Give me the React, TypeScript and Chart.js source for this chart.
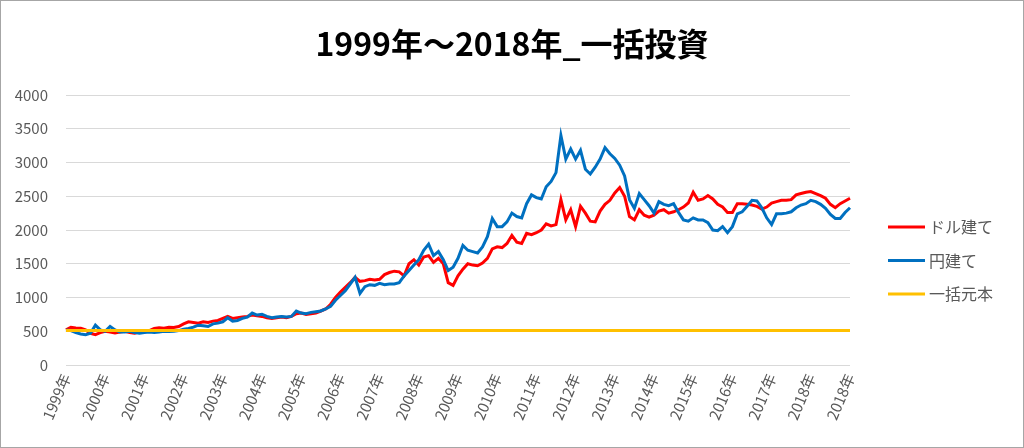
import React, { useEffect, useRef } from "react";
import { Chart, registerables } from "chart.js";

Chart.register(...registerables);

const chartTitle = "1999年～2018年_一括投資";
const seriesNames = ["ドル建て", "円建て", "一括元本"];

const yearTicks = [
  "1999年", "2000年", "2001年", "2002年", "2003年", "2004年", "2005年",
  "2006年", "2007年", "2008年", "2009年", "2010年", "2011年", "2012年",
  "2013年", "2014年", "2015年", "2016年", "2017年", "2018年", "2018年",
];
const pointsPerTick = 8;

const dollarValues = [
  520, 560, 550, 545, 520, 470, 450, 480,
  500, 490, 475, 490, 500, 480, 470, 490,
  500, 510, 540, 550, 545, 560, 555, 570,
  610, 640, 630, 620, 640, 630, 650, 660,
  690, 720, 690, 700, 710, 720, 740, 730,
  720, 700, 690, 700, 710, 700, 720, 760,
  770, 750, 760, 770, 800, 830, 900, 1000,
  1080, 1150, 1220, 1300, 1240, 1250, 1270, 1260,
  1270, 1340, 1370, 1390, 1380, 1320, 1500, 1560,
  1480, 1600, 1620, 1520, 1580, 1500, 1220, 1180,
  1320, 1420, 1500, 1480, 1470, 1510, 1580, 1720,
  1750, 1740, 1800, 1920, 1820, 1800, 1950, 1930,
  1960, 2000, 2090, 2060, 2080, 2450, 2150, 2300,
  2050, 2350, 2250, 2130, 2120, 2280, 2380, 2440,
  2550, 2630, 2500, 2200, 2150, 2300, 2220, 2190,
  2220, 2280, 2300, 2250, 2270, 2300, 2340, 2400,
  2560, 2440, 2460, 2510, 2460, 2380, 2340, 2260,
  2260, 2390, 2390, 2380, 2370, 2350, 2310, 2340,
  2400, 2420, 2440, 2440, 2450, 2520, 2540, 2560,
  2570, 2540, 2510, 2470, 2380, 2330, 2390, 2430,
  2470,
];

const yenValues = [
  520, 510, 480, 460, 450, 470, 590, 520,
  500, 570, 520, 490, 490, 500, 480, 470,
  480, 490, 480, 490, 500, 495, 500, 510,
  530, 540, 560, 590, 580, 570, 610, 620,
  640, 700, 650, 660, 690, 710, 770, 740,
  750, 720, 700, 710, 720, 710, 720, 800,
  770, 760, 780, 790, 800, 830, 870, 960,
  1030, 1100, 1200, 1300, 1060, 1160, 1190, 1180,
  1210, 1190, 1200, 1200, 1220, 1320, 1400, 1480,
  1560, 1700, 1790, 1620, 1680, 1560, 1400, 1450,
  1580, 1770, 1700, 1680, 1660, 1750, 1900, 2170,
  2050, 2050, 2120, 2250, 2200, 2180, 2390, 2520,
  2480, 2460, 2640, 2720, 2850, 3400, 3050, 3200,
  3050, 3180, 2900, 2830, 2930, 3050, 3220, 3130,
  3060, 2960, 2800, 2450, 2320, 2540, 2450, 2360,
  2250, 2420, 2380, 2360, 2390, 2260, 2150, 2130,
  2180, 2150, 2150, 2110, 2000, 1990, 2050, 1960,
  2050, 2240, 2270, 2350, 2440, 2430, 2330, 2180,
  2080, 2240, 2240, 2250, 2270, 2330, 2370, 2390,
  2440, 2420, 2380, 2320, 2230, 2170, 2170, 2260,
  2330,
];

const principalValue = 510;

const yMin = 0;
const yMax = 4000;
const yStep = 500;

const FONT = "'Noto Sans CJK JP', 'Noto Sans', sans-serif";
const TEXT_GRAY = "#595959";

const frameTitleLegend = {
  id: "frameTitleLegend",
  afterDraw(chart: any) {
    const ctx = chart.ctx;
    ctx.save();
    ctx.strokeStyle = "#a6a6a6";
    ctx.lineWidth = 1;
    ctx.strokeRect(0.5, 0.5, chart.width - 1, chart.height - 1);

    ctx.fillStyle = "#000000";
    ctx.font = `bold 32px ${FONT}`;
    ctx.textAlign = "center";
    ctx.textBaseline = "middle";
    ctx.fillText(chartTitle, chart.width / 2, 44);

    const rows = [227, 260.5, 294];
    ctx.font = `16px ${FONT}`;
    ctx.textBaseline = "middle";
    ctx.textAlign = "left";
    chart.data.datasets.forEach((ds: any, i: number) => {
      const y = rows[i];
      ctx.strokeStyle = ds.borderColor;
      ctx.lineWidth = 3;
      ctx.beginPath();
      ctx.moveTo(888, y);
      ctx.lineTo(925, y);
      ctx.stroke();
      ctx.fillStyle = TEXT_GRAY;
      ctx.fillText(ds.label, 929, y);
    });
    ctx.restore();
  },
};

export default function App() {
  const canvasRef = useRef<HTMLCanvasElement | null>(null);

  useEffect(() => {
    document.body.style.margin = "0";
    const canvas = canvasRef.current;
    if (!canvas) return;
    const labels = dollarValues.map((_, i) => i);
    const chart = new Chart(canvas, {
      type: "line",
      data: {
        labels,
        datasets: [
          {
            label: seriesNames[0],
            data: dollarValues,
            borderColor: "#FF0000",
            backgroundColor: "#FF0000",
            borderWidth: 3,
            pointRadius: 0,
            tension: 0,
            order: 2,
          },
          {
            label: seriesNames[1],
            data: yenValues,
            borderColor: "#0070C0",
            backgroundColor: "#0070C0",
            borderWidth: 3,
            pointRadius: 0,
            tension: 0,
            order: 1,
          },
          {
            label: seriesNames[2],
            data: labels.map(() => principalValue),
            borderColor: "#FFC000",
            backgroundColor: "#FFC000",
            borderWidth: 3,
            pointRadius: 0,
            tension: 0,
            order: 0,
          },
        ],
      },
      options: {
        animation: false,
        responsive: false,
        maintainAspectRatio: false,
        layout: { padding: { left: 0, right: 174, top: 95, bottom: 0 } },
        plugins: {
          legend: { display: false },
          tooltip: { enabled: false },
          title: { display: false },
        },
        scales: {
          x: {
            type: "category",
            grid: { display: false, drawTicks: false },
            border: { display: false },
            afterFit: (s: any) => {
              s.height = 83;
            },
            ticks: {
              autoSkip: false,
              minRotation: 67,
              maxRotation: 67,
              padding: 6,
              color: TEXT_GRAY,
              font: { family: FONT, size: 15 },
              callback: (_v: any, i: number) =>
                i % pointsPerTick === 0 ? yearTicks[i / pointsPerTick] : "",
            },
          },
          y: {
            min: yMin,
            max: yMax,
            grid: { color: "#d9d9d9", lineWidth: 1, drawTicks: false },
            border: { display: false },
            afterFit: (s: any) => {
              s.width = 66;
            },
            ticks: {
              stepSize: yStep,
              padding: 18,
              color: TEXT_GRAY,
              font: { family: FONT, size: 15 },
              callback: (v: any) => String(v),
            },
          },
        },
      },
      plugins: [frameTitleLegend],
    });
    return () => chart.destroy();
  }, []);

  return (
    <div style={{ width: 1024, height: 448 }}>
      <canvas ref={canvasRef} width={1024} height={448} style={{ display: "block" }} />
    </div>
  );
}
